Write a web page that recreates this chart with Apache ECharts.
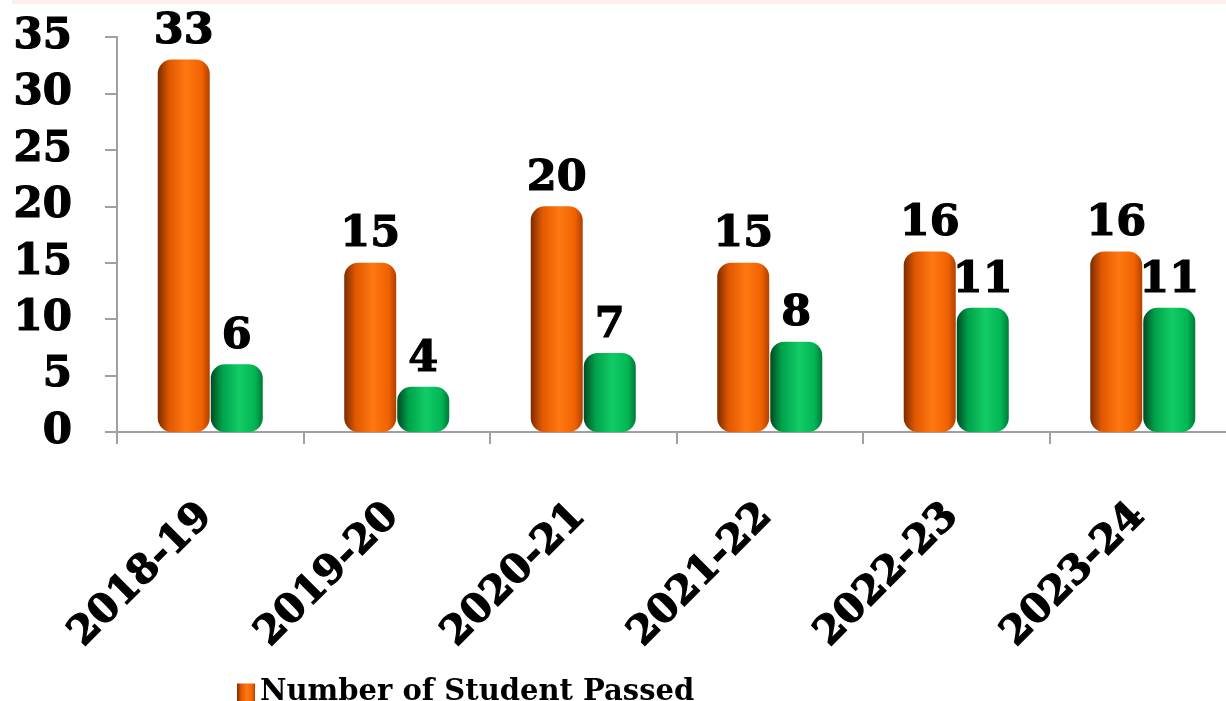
<!DOCTYPE html>
<html>
<head>
<meta charset="utf-8">
<script src="https://cdn.jsdelivr.net/npm/echarts@6/dist/echarts.min.js"></script>
<style>
  html, body { margin: 0; padding: 0; background: #fff; }
  #chart { width: 1226px; height: 701px; }
</style>
</head>
<body>
<div id="chart"></div>
<script>
// data
const years = ["2018-19", "2019-20", "2020-21", "2021-22", "2022-23", "2023-24"];
const passed = [33, 15, 20, 15, 16, 16];
const second = [6, 4, 7, 8, 11, 11];
const yTicks = [0, 5, 10, 15, 20, 25, 30, 35];

const font = "'DejaVu Serif', serif";
const chart = echarts.init(document.getElementById("chart"));

const orangeFill = new echarts.graphic.LinearGradient(0, 0, 1, 0, [
  { offset: 0, color: "#7a2c00" },
  { offset: 0.22, color: "#e05800" },
  { offset: 0.55, color: "#ff7812" },
  { offset: 0.85, color: "#f06200" },
  { offset: 1, color: "#b04000" },
]);
const greenFill = new echarts.graphic.LinearGradient(0, 0, 1, 0, [
  { offset: 0, color: "#004a24" },
  { offset: 0.22, color: "#00a24a" },
  { offset: 0.55, color: "#12cc66" },
  { offset: 0.85, color: "#02b554" },
  { offset: 1, color: "#007a38" },
]);

const boldText = {
  fontFamily: font,
  fontWeight: "bold",
  color: "#000",
  textBorderColor: "#000",
  textBorderWidth: 1.2,
};

let option = {
  animation: false,
  backgroundColor: "#fff",
  textStyle: { fontFamily: font },
  graphic: [
    {
      type: "rect",
      shape: { x: 12, y: 0, width: 1214, height: 4 },
      style: { fill: "#fff0f0" },
      silent: true,
    },
  ],
  grid: {
    left: 117,
    top: 37,
    width: 1119,
    height: 395,
    outerBoundsMode: "none",
  },
  legend: {
    data: ["Number of Student Passed"],
    left: 232,
    top: 673,
    itemWidth: 18,
    itemHeight: 18,
    itemGap: 6,
    icon: "rect",
    textStyle: {
      fontFamily: font,
      fontWeight: "bold",
      fontSize: 29,
      color: "#000",
    },
  },
  xAxis: {
    type: "category",
    data: years,
    axisLine: { lineStyle: { color: "#a0a0a0", width: 2 } },
    axisTick: { show: true, length: 12, lineStyle: { color: "#a0a0a0", width: 2 } },
    axisLabel: Object.assign({
      rotate: 45,
      margin: 74,
      padding: [0, 6, 0, 0],
      fontSize: 40,
    }, boldText),
  },
  yAxis: {
    type: "value",
    min: yTicks[0],
    max: yTicks[yTicks.length - 1],
    interval: 5,
    splitLine: { show: false },
    axisLine: { show: true, lineStyle: { color: "#a0a0a0", width: 2 } },
    axisTick: { show: true, length: 12, lineStyle: { color: "#a0a0a0", width: 2 } },
    axisLabel: Object.assign({
      margin: 45,
      fontSize: 42,
    }, boldText),
  },
  series: [
    {
      name: "Number of Student Passed",
      type: "bar",
      data: passed,
      barWidth: 52,
      barGap: "2%",
      itemStyle: { color: orangeFill, borderRadius: 14 },
      label: Object.assign({
        show: true,
        position: "top",
        distance: 6,
        fontSize: 43,
      }, boldText),
    },
    {
      name: "Second",
      type: "bar",
      data: second,
      barWidth: 52,
      itemStyle: { color: greenFill, borderRadius: 14 },
      label: Object.assign({
        show: true,
        position: "top",
        distance: 6,
        fontSize: 43,
      }, boldText),
    },
  ],
};

chart.setOption(option);
</script>
</body>
</html>
